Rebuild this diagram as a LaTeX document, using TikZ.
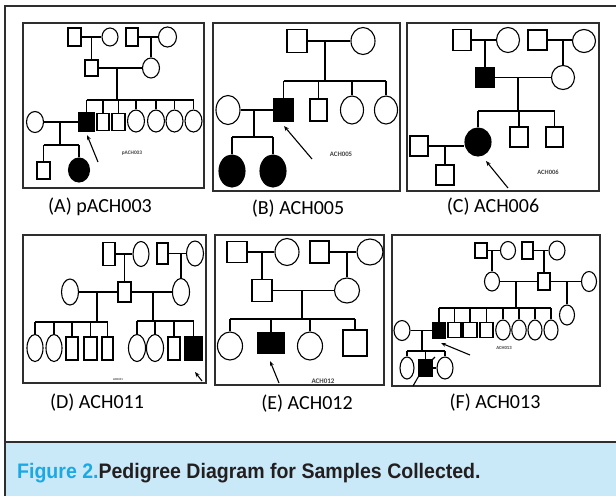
\documentclass[tikz,border=0pt]{standalone}
\usepackage{fontspec}
\usetikzlibrary{shapes.geometric,arrows.meta,calc}
\newfontfamily\labfont{Carlito}
\newfontfamily\capfont[FakeStretch=0.93]{Liberation Sans}
\definecolor{bandblue}{HTML}{C9E9F8}
\definecolor{figcyan}{HTML}{1BA9E4}
\definecolor{captext}{HTML}{231F20}
\definecolor{framegray}{HTML}{2E2E2E}

% individuals: [extra style]{name}{x}{y}{width}{height}
\newcommand\pedM[6][]{\node[male,#1,minimum width=#5pt,minimum height=#6pt] (#2) at (#3,#4) {};}
\newcommand\pedF[6][]{\node[female,#1,minimum width=#5pt,minimum height=#6pt] (#2) at (#3,#4) {};}

\tikzset{
  male/.style={draw=black, rectangle, inner sep=0pt, line width=1.1pt},
  female/.style={draw=black, ellipse, inner sep=0pt, line width=1.1pt},
  aff/.style={fill=black},
  pline/.style={draw=black, line width=1.1pt},
  arr/.style={draw=black, line width=1.1pt, -{Stealth[length=5pt,width=4pt]}},
  panel/.style={draw=framegray, line width=1.3pt},
  plab/.style={font=\labfont\fontsize{20}{22}\selectfont, text=black, inner sep=0pt},
  tag/.style={font=\labfont\bfseries\fontsize{#1}{#1}\selectfont, text=black!75, inner sep=0pt},
}

\begin{document}
\begin{tikzpicture}[x=1pt,y=-1pt]
\useasboundingbox (0,0) rectangle (616,496);

% page frame and caption band
\fill[bandblue] (5,442) rectangle (616,496);
\draw[framegray, line width=2.4pt] (5,496) -- (5,6) -- (616,6);
\draw[framegray, line width=2pt] (5,442) -- (616,442);
\node[anchor=base west, inner sep=0pt, font=\capfont\bfseries\fontsize{21}{23}\selectfont, text=captext]
  (caption) at (17,478) {\textcolor{figcyan}{Figure 2.}Pedigree Diagram for Samples Collected.};

% panel frames
\draw[panel] (23,23) rectangle (204,188);
\draw[panel] (213,23) rectangle (400,191);
\draw[panel] (407,23) rectangle (599,191);
\draw[panel] (23,235) rectangle (206,383);
\draw[panel] (215,235) rectangle (384,385);
\draw[panel] (392,235) rectangle (600,386);

% ---------- (A) pACH003 ----------
\pedM{a1}{74.5}{37}{13}{18}
\pedF{a2}{110}{37}{16}{18}
\pedM{a3}{132}{37}{12}{18}
\pedF{a4}{167.5}{37}{18}{20}
\pedM{a5}{91.5}{68}{13}{16}
\pedF{a6}{151}{68}{17}{20}
\draw[pline] (a1.east) -- (a2.west);
\draw[pline] (a3.east) -- (a4.west);
\draw[pline] (a5.east) -- (a6.west);
\draw[pline] (a5.north) -- (a5.north |- a1.east);
\draw[pline] (a6.north) -- (a6.north |- a3.east);
\pedM[aff]{a7}{86.5}{122}{15}{19}
\pedM{a8}{103}{122}{12}{17}
\pedM{a9}{118.5}{122}{13}{17}
\pedF{a10}{136}{121}{17}{22}
\pedF{a11}{156}{121}{17}{22}
\pedF{a12}{174.5}{121}{17}{22}
\pedF{a13}{193.5}{121}{17}{22}
\coordinate (sA) at (117,100);
\draw[pline] (sA |- a5.east) -- (sA);
\draw[pline] (sA -| a7) -- (sA -| a13);
\foreach \c in {a7,a8,a9,a10,a11,a12,a13} \draw[pline] (sA -| \c) -- (\c.north);
\pedF{a14}{35}{122}{17}{21}
\draw[pline] (a14.east) -- (a7.west);
\pedM{a15}{43.5}{170.5}{13}{17}
\pedF[aff]{a16}{79}{170}{21}{24}
\coordinate (sA2) at (60,145);
\draw[pline] (sA2 |- a7.west) -- (sA2);
\draw[pline] (sA2 -| a15) -- (sA2 -| a16);
\foreach \c in {a15,a16} \draw[pline] (sA2 -| \c) -- (\c.north);
\coordinate (tA) at (98,162);
\coordinate (hA) at (87,135);
\draw[arr] (tA) -- (hA);
\node[tag=5.3] (idA) at (132,153) {pACH003};
\node[plab] (labA) at (100,207) {(A) pACH003};

% ---------- (B) ACH005 ----------
\pedM{b1}{297}{41}{20}{23}
\pedF{b2}{363}{41}{24}{27}
\draw[pline] (b1.east) -- (b2.west);
\pedM[aff]{b3}{283.5}{110}{19}{23}
\pedM{b4}{318.5}{110}{17}{22}
\pedF{b5}{352}{110}{23}{28}
\pedF{b6}{386}{110}{23}{28}
\coordinate (sB) at (325,81);
\draw[pline] (sB |- b1.east) -- (sB);
\draw[pline] (sB -| b3) -- (sB -| b6);
\foreach \c in {b3,b4,b5,b6} \draw[pline] (sB -| \c) -- (\c.north);
\pedF{b7}{228}{110}{24}{29}
\draw[pline] (b7.east) -- (b3.west);
\pedF[aff]{b8}{232}{171}{26}{32}
\pedF[aff]{b9}{273}{171}{26}{32}
\coordinate (sB2) at (254,137);
\draw[pline] (sB2 |- b3.west) -- (sB2);
\draw[pline] (sB2 -| b8) -- (sB2 -| b9);
\foreach \c in {b8,b9} \draw[pline] (sB2 -| \c) -- (\c.north);
\coordinate (tB) at (312,159);
\coordinate (hB) at (284,126);
\draw[arr] (tB) -- (hB);
\node[tag=6.8] (idB) at (341,154) {ACH005};
\node[plab] (labB) at (298,209) {(B) ACH005};

% ---------- (C) ACH006 ----------
\pedM{c1}{462}{40}{18}{21}
\pedF{c2}{508}{40}{23}{25}
\pedM{c3}{537.5}{40}{19}{20}
\pedF{c4}{584}{41}{23}{23}
\draw[pline] (c1.east) -- (c2.west);
\draw[pline] (c3.east) -- (c3.east -| c4.west);
\pedM[aff]{c5}{485}{77.5}{18}{19}
\pedF{c6}{563}{77.5}{23}{24}
\draw[pline] (c5.north) -- (c5.north |- c1.east);
\draw[pline] (c6.north) -- (c6.north |- c3.east);
\draw[pline] (c5.east) -- (c6.west);
\pedF[aff]{c7}{478}{142}{26}{28}
\pedM{c8}{519}{137}{18}{20}
\pedM{c9}{554.5}{137}{17}{20}
\coordinate (sC) at (518,111);
\draw[pline] (sC |- c5.east) -- (sC);
\draw[pline] (sC -| c7) -- (sC -| c9);
\foreach \c in {c7,c8,c9} \draw[pline] (sC -| \c) -- (\c.north);
\pedM{c10}{419}{146}{18}{20}
\draw[pline] (c10.east) -- (c10.east -| c7.west);
\pedM{c11}{445}{175}{18}{20}
\draw[pline] (c11.north) -- (c11.north |- c10.east);
\coordinate (tC) at (508,188);
\coordinate (hC) at (486,161);
\draw[arr] (tC) -- (hC);
\node[tag=6.5] (idC) at (548,172) {ACH006};
\node[plab] (labC) at (493,207) {(C) ACH006};

% ---------- (D) ACH011 ----------
\pedM{d1}{109}{254}{12}{23}
\pedF{d2}{141}{254}{16}{25}
\pedM{d3}{162.5}{253.5}{11}{21}
\pedF{d4}{195}{253.5}{17}{25}
\draw[pline] (d1.east) -- (d2.west);
\draw[pline] (d3.east) -- (d4.west);
\pedM{d5}{124.5}{292}{13}{20}
\pedF{d7}{70}{292}{17}{26}
\pedF{d6}{181}{292}{17}{27}
\draw[pline] (d5.north) -- (d5.north |- d1.east);
\draw[pline] (d6.north) -- (d6.north |- d3.east);
\draw[pline] (d7.east) -- (d5.west);
\draw[pline] (d5.east) -- (d6.west);
\pedF{d8}{35}{348}{16}{27}
\pedF{d9}{54}{348}{16}{27}
\pedM{d10}{72}{348.5}{12}{23}
\pedM{d11}{90.5}{348.5}{13}{23}
\pedM{d12}{107.5}{348.5}{11}{23}
\coordinate (sD1) at (97,322);
\draw[pline] (sD1 |- d5.west) -- (sD1);
\draw[pline] (sD1 -| d8) -- (sD1 -| d12);
\foreach \c in {d8,d9,d10,d11,d12} \draw[pline] (sD1 -| \c) -- (\c.north);
\pedF{d13}{137}{348}{17}{27}
\pedF{d14}{155}{348}{17}{27}
\pedM{d15}{174}{348.5}{12}{23}
\pedM[aff]{d16}{193.5}{348.5}{17}{23}
\coordinate (sD2) at (153,321);
\draw[pline] (sD2 |- d5.east) -- (sD2);
\draw[pline] (sD2 -| d13) -- (sD2 -| d16);
\foreach \c in {d13,d14,d15,d16} \draw[pline] (sD2 -| \c) -- (\c.north);
\coordinate (tD) at (202,381);
\coordinate (hD) at (195,372);
\draw[arr] (tD) -- (hD);
\node[tag=3] (idD) at (118,380) {ACH011};
\node[plab] (labD) at (97,403) {(D) ACH011};

% ---------- (E) ACH012 ----------
\pedM{e1}{237}{252}{20}{21}
\pedF{e2}{287}{252}{24}{27}
\pedM{e3}{319.5}{252}{19}{22}
\pedF{e4}{370}{252}{26}{26}
\draw[pline] (e1.east) -- (e2.west);
\draw[pline] (e3.east) -- (e4.west);
\pedM{e5}{262}{290.5}{20}{22}
\pedF{e6}{347}{290.5}{25}{25}
\draw[pline] (e5.north) -- (e5.north |- e1.east);
\draw[pline] (e6.north) -- (e6.north |- e3.east);
\draw[pline] (e5.east) -- (e6.west);
\pedF{e7}{230}{346}{25}{28}
\pedM[aff]{e8}{271}{343}{26}{20}
\pedF{e9}{310}{346}{25}{28}
\pedM{e10}{355}{343}{24}{26}
\coordinate (sE) at (302,319);
\draw[pline] (sE |- e5.east) -- (sE);
\draw[pline] (sE -| e7) -- (sE -| e10);
\foreach \c in {e7,e8,e9,e10} \draw[pline] (sE -| \c) -- (\c.north);
\coordinate (tE) at (279,383);
\coordinate (hE) at (270,361);
\draw[arr] (tE) -- (hE);
\node[tag=7] (idE) at (323,381) {ACH012};
\node[plab] (labE) at (307,404) {(E) ACH012};

% ---------- (F) ACH013 ----------
\pedM{f1}{481}{250.5}{12}{15}
\pedF{f2}{508}{250.5}{15}{18}
\pedM{f3}{527.5}{250.5}{11}{17}
\pedF{f4}{557}{250.5}{16}{19}
\draw[pline] (f1.east) -- (f2.west);
\draw[pline] (f3.east) -- (f4.west);
\pedF{f5}{492}{281.5}{15}{19}
\pedM{f6}{544}{281.5}{12}{17}
\pedF{f7}{589}{281.5}{15}{20}
\draw[pline] (f5.north) -- (f5.north |- f1.east);
\draw[pline] (f6.north) -- (f6.north |- f3.east);
\draw[pline] (f5.east) -- (f6.west);
\draw[pline] (f6.east) -- (f7.west);
\pedF{f8}{567}{315}{15}{20}
\draw[pline] (f8.north) -- (f8.north |- f6.east);
\pedM[aff]{f9}{439}{330.5}{13}{16}
\pedM{f10}{454.5}{330}{13}{15}
\pedM{f11}{470}{330}{14}{15}
\pedM{f12}{486.5}{330}{13}{15}
\pedF{f13}{503}{330}{14.5}{20}
\pedF{f14}{519}{330}{14.5}{20}
\pedF{f15}{535}{330}{14}{20}
\pedF{f16}{551}{330}{14}{20}
\coordinate (sF) at (516,308);
\draw[pline] (sF |- f5.east) -- (sF);
\draw[pline] (sF -| f9) -- (sF -| f16);
\foreach \c in {f9,f10,f11,f12,f13,f14,f15,f16} \draw[pline] (sF -| \c) -- (\c.north);
\pedF{f17}{402}{330.5}{16}{20}
\draw[pline] (f17.east) -- (f9.west);
\pedF{f18}{407}{368}{14}{22}
\pedM[aff]{f19}{425.5}{368}{13}{16}
\pedF{f20}{445}{368}{16}{22}
\coordinate (sF2) at (422,351);
\draw[pline] (sF2 |- f9.west) -- (sF2);
\draw[pline] (sF2 -| f18) -- (sF2 -| f20);
\foreach \c in {f18,f19,f20} \draw[pline] (sF2 -| \c) -- (\c.north);
\draw[pline] (f19.east) -- (f20.west);
\coordinate (kF) at (435,357);
\draw[pline] (f19.north east) -- (kF);
\coordinate (bF) at (413,386);
\draw[pline] (f19.south west) -- (bF);
\coordinate (tF) at (470,355);
\coordinate (hF) at (441,343);
\draw[arr] (tF) -- (hF);
\node[tag=4.7] (idF) at (504,348) {ACH013};
\node[plab] (labF) at (495,403) {(F) ACH013};
\end{tikzpicture}
\end{document}
